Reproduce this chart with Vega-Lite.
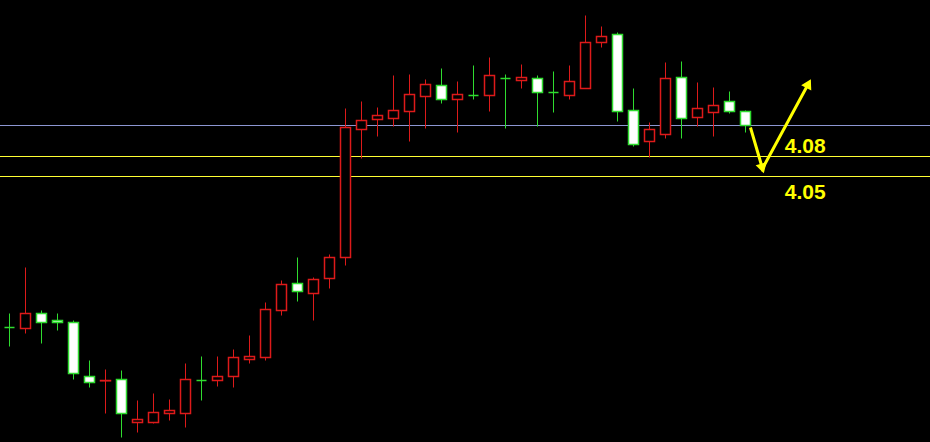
{
  "$schema": "https://vega.github.io/schema/vega-lite/v6.json",
  "width": 930,
  "height": 442,
  "padding": 0,
  "autosize": {"type": "none"},
  "background": "#000000",
  "config": {"view": {"stroke": null}},
  "datasets": {
    "candles": [
      {"i": 0, "o": 3.8235, "h": 3.8445, "l": 3.795, "c": 3.8235},
      {"i": 1, "o": 3.822, "h": 3.9135, "l": 3.8145, "c": 3.8445},
      {"i": 2, "o": 3.8445, "h": 3.849, "l": 3.7995, "c": 3.831},
      {"i": 3, "o": 3.834, "h": 3.8445, "l": 3.819, "c": 3.831},
      {"i": 4, "o": 3.831, "h": 3.834, "l": 3.7455, "c": 3.7545},
      {"i": 5, "o": 3.75, "h": 3.774, "l": 3.7335, "c": 3.741},
      {"i": 6, "o": 3.7435, "h": 3.7605, "l": 3.6945, "c": 3.744},
      {"i": 7, "o": 3.7455, "h": 3.759, "l": 3.6585, "c": 3.6945},
      {"i": 8, "o": 3.681, "h": 3.714, "l": 3.666, "c": 3.6855},
      {"i": 9, "o": 3.681, "h": 3.7245, "l": 3.6795, "c": 3.696},
      {"i": 10, "o": 3.6945, "h": 3.7155, "l": 3.684, "c": 3.699},
      {"i": 11, "o": 3.6945, "h": 3.7695, "l": 3.6735, "c": 3.7455},
      {"i": 12, "o": 3.744, "h": 3.78, "l": 3.714, "c": 3.744},
      {"i": 13, "o": 3.744, "h": 3.78, "l": 3.735, "c": 3.75},
      {"i": 14, "o": 3.75, "h": 3.7905, "l": 3.7335, "c": 3.7785},
      {"i": 15, "o": 3.7755, "h": 3.8115, "l": 3.7695, "c": 3.78},
      {"i": 16, "o": 3.7785, "h": 3.861, "l": 3.774, "c": 3.8505},
      {"i": 17, "o": 3.849, "h": 3.894, "l": 3.8415, "c": 3.888},
      {"i": 18, "o": 3.8895, "h": 3.9285, "l": 3.8625, "c": 3.8775},
      {"i": 19, "o": 3.8745, "h": 3.8985, "l": 3.834, "c": 3.8955},
      {"i": 20, "o": 3.897, "h": 3.933, "l": 3.882, "c": 3.9285},
      {"i": 21, "o": 3.9285, "h": 4.152, "l": 3.9165, "c": 4.1235},
      {"i": 22, "o": 4.1205, "h": 4.1625, "l": 4.077, "c": 4.134},
      {"i": 23, "o": 4.1355, "h": 4.1535, "l": 4.11, "c": 4.1415},
      {"i": 24, "o": 4.137, "h": 4.2015, "l": 4.125, "c": 4.149},
      {"i": 25, "o": 4.1475, "h": 4.203, "l": 4.1025, "c": 4.173},
      {"i": 26, "o": 4.17, "h": 4.1955, "l": 4.122, "c": 4.188},
      {"i": 27, "o": 4.1865, "h": 4.212, "l": 4.1595, "c": 4.1655},
      {"i": 28, "o": 4.1655, "h": 4.1925, "l": 4.116, "c": 4.173},
      {"i": 29, "o": 4.1715, "h": 4.2165, "l": 4.1655, "c": 4.1715},
      {"i": 30, "o": 4.1715, "h": 4.2285, "l": 4.1475, "c": 4.2015},
      {"i": 31, "o": 4.197, "h": 4.203, "l": 4.122, "c": 4.197},
      {"i": 32, "o": 4.194, "h": 4.218, "l": 4.182, "c": 4.1985},
      {"i": 33, "o": 4.197, "h": 4.2015, "l": 4.125, "c": 4.176},
      {"i": 34, "o": 4.176, "h": 4.2075, "l": 4.146, "c": 4.176},
      {"i": 35, "o": 4.1715, "h": 4.2165, "l": 4.1655, "c": 4.1925},
      {"i": 36, "o": 4.182, "h": 4.2915, "l": 4.182, "c": 4.251},
      {"i": 37, "o": 4.251, "h": 4.275, "l": 4.2435, "c": 4.26},
      {"i": 38, "o": 4.263, "h": 4.266, "l": 4.1325, "c": 4.1475},
      {"i": 39, "o": 4.149, "h": 4.182, "l": 4.095, "c": 4.098},
      {"i": 40, "o": 4.1025, "h": 4.131, "l": 4.0785, "c": 4.1205},
      {"i": 41, "o": 4.113, "h": 4.221, "l": 4.107, "c": 4.197},
      {"i": 42, "o": 4.1985, "h": 4.2225, "l": 4.107, "c": 4.137},
      {"i": 43, "o": 4.1385, "h": 4.191, "l": 4.125, "c": 4.152},
      {"i": 44, "o": 4.146, "h": 4.1835, "l": 4.11, "c": 4.1565},
      {"i": 45, "o": 4.1625, "h": 4.1775, "l": 4.1445, "c": 4.1475},
      {"i": 46, "o": 4.1475, "h": 4.149, "l": 4.116, "c": 4.1265}
    ],
    "levels": [
      {"p": 4.1265, "kind": "blue"},
      {"p": 4.08, "kind": "yellow"},
      {"p": 4.05, "kind": "yellow"}
    ],
    "arrow": [
      {"i": 46.31, "p": 4.1235, "step": 0},
      {"i": 47.06, "p": 4.062, "step": 1},
      {"i": 49.94, "p": 4.1895, "step": 2}
    ],
    "labels": [
      {"i": 48.45, "p": 4.095, "label": "4.08"},
      {"i": 48.45, "p": 4.026, "label": "4.05"}
    ]
  },
  "layer": [
    {
      "data": {"name": "levels"},
      "mark": {"type": "rule", "strokeWidth": 1},
      "encoding": {
        "y": {"field": "p", "type": "quantitative", "scale": {"domain": [3.65175, 4.31475], "nice": false, "zero": false}, "axis": null},
        "color": {"field": "kind", "type": "nominal", "scale": {"domain": ["blue", "yellow"], "range": ["#8c96d2", "#ffff33"]}, "legend": null}
      }
    },
    {
      "data": {"name": "candles"},
      "mark": {"type": "rule", "strokeWidth": 1},
      "encoding": {
        "x": {"field": "i", "type": "quantitative", "scale": {"domain": [-0.59375, 57.53125], "nice": false, "zero": false, "padding": 0}, "axis": null},
        "y": {"field": "l", "type": "quantitative", "axis": null},
        "y2": {"field": "h"},
        "color": {"condition": {"test": "datum.c > datum.o", "value": "#dd1a1a"}, "value": "#2fdc2f"}
      }
    },
    {
      "data": {"name": "candles"},
      "mark": {"type": "bar", "width": 10, "strokeWidth": 1.5, "orient": "vertical"},
      "encoding": {
        "x": {"field": "i", "type": "quantitative", "axis": null},
        "y": {"field": "o", "type": "quantitative", "axis": null},
        "y2": {"field": "c"},
        "fill": {"condition": {"test": "datum.c > datum.o", "value": "#000000"}, "value": "#ffffff"},
        "stroke": {"condition": {"test": "datum.c > datum.o", "value": "#dd1a1a"}, "value": "#2fdc2f"}
      }
    },
    {
      "data": {"name": "arrow"},
      "mark": {"type": "line", "color": "#ffff00", "strokeWidth": 3},
      "encoding": {
        "x": {"field": "i", "type": "quantitative", "axis": null},
        "y": {"field": "p", "type": "quantitative", "axis": null},
        "order": {"field": "step"}
      }
    },
    {
      "data": {"name": "arrow"},
      "transform": [{"filter": "datum.step == 1"}],
      "mark": {"type": "point", "shape": "triangle-down", "filled": true, "color": "#ffff00", "size": 130, "angle": -16, "opacity": 1},
      "encoding": {
        "x": {"field": "i", "type": "quantitative", "axis": null},
        "y": {"field": "p", "type": "quantitative", "axis": null}
      }
    },
    {
      "data": {"name": "arrow"},
      "transform": [{"filter": "datum.step == 2"}],
      "mark": {"type": "point", "shape": "triangle-up", "filled": true, "color": "#ffff00", "size": 130, "angle": 28, "opacity": 1},
      "encoding": {
        "x": {"field": "i", "type": "quantitative", "axis": null},
        "y": {"field": "p", "type": "quantitative", "axis": null}
      }
    },
    {
      "data": {"name": "labels"},
      "mark": {"type": "text", "align": "left", "baseline": "middle", "font": "Liberation Sans", "fontWeight": "bold", "fontSize": 21, "color": "#ffff00"},
      "encoding": {
        "x": {"field": "i", "type": "quantitative", "axis": null},
        "y": {"field": "p", "type": "quantitative", "axis": null},
        "text": {"field": "label"}
      }
    }
  ]
}
